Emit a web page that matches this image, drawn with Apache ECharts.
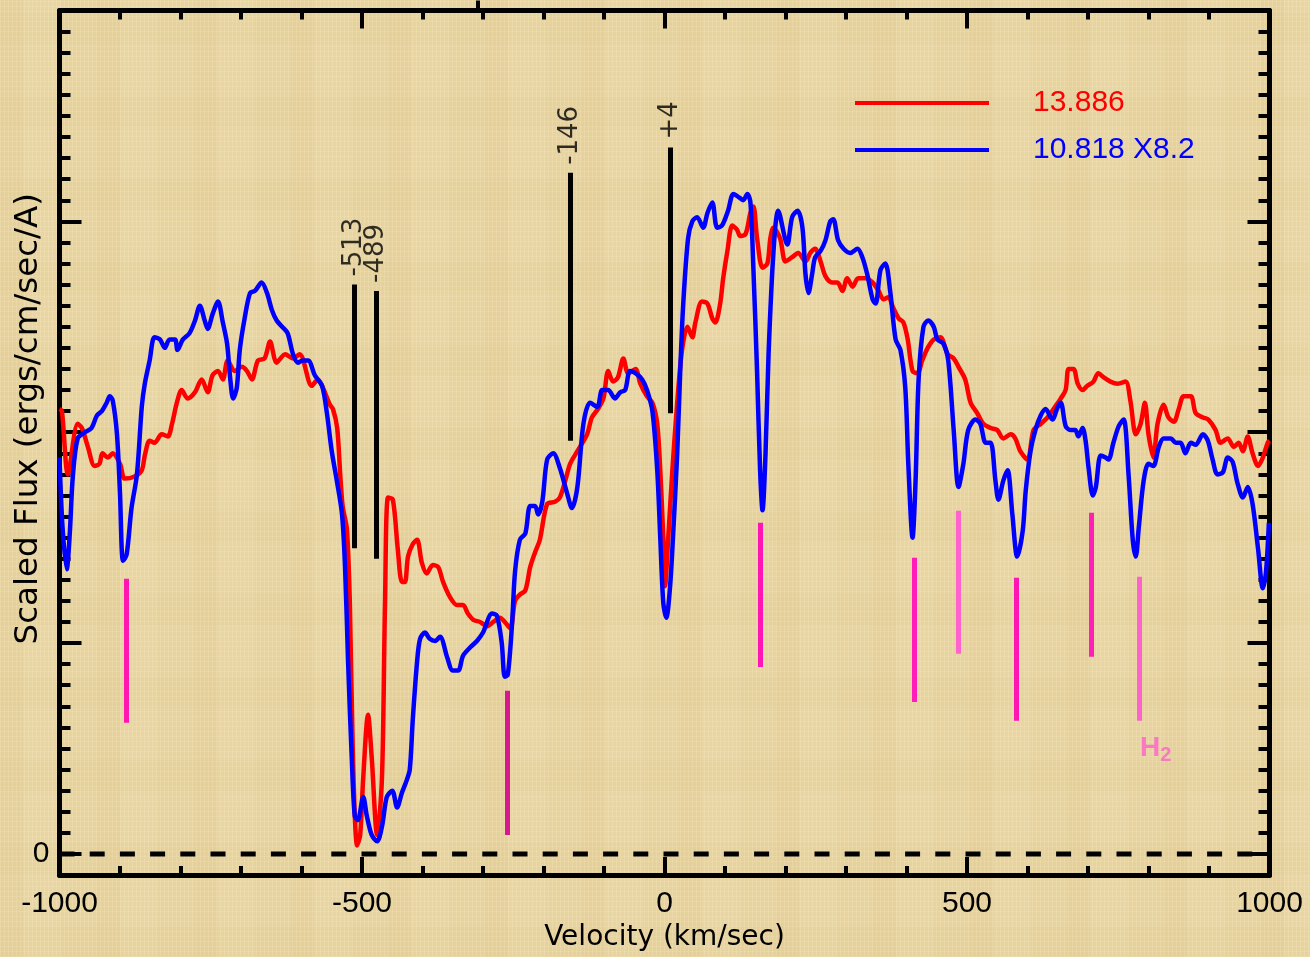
<!DOCTYPE html>
<html><head><meta charset="utf-8">
<script src="https://cdn.jsdelivr.net/npm/echarts@6/dist/echarts.min.js"></script>
<style>
html,body{margin:0;padding:0;width:1310px;height:957px;overflow:hidden;}
body{
  background-color:#e7d3a0;
  background-image:
    repeating-linear-gradient(90deg, rgba(255,248,220,0.16) 0px, rgba(255,248,220,0.16) 1px, rgba(0,0,0,0) 1px, rgba(0,0,0,0) 4px),
    repeating-linear-gradient(0deg, rgba(255,248,220,0.12) 0px, rgba(255,248,220,0.12) 1px, rgba(0,0,0,0) 1px, rgba(0,0,0,0) 5px),
    repeating-linear-gradient(90deg, rgba(190,150,70,0.04) 0px, rgba(190,150,70,0.04) 23px, rgba(255,250,225,0.05) 23px, rgba(255,250,225,0.05) 61px, rgba(0,0,0,0) 61px, rgba(0,0,0,0) 97px),
    repeating-linear-gradient(0deg, rgba(200,160,80,0.04) 0px, rgba(200,160,80,0.04) 31px, rgba(0,0,0,0) 31px, rgba(0,0,0,0) 83px);
}
#chart{width:1310px;height:957px;}
</style></head><body><div id="chart"></div><script>
// ---------- data ----------
const xRange = [-1000, 1000];
const yRange = [-0.1, 4];
const xMajorStep = 500;
const yMajorTicks = [0, 1, 2, 3, 4];
const yLabelValues = [0];
const zeroLevel = 0;

const redName = '13.886';
const redV = [-1000,-996,-986,-970,-963,-953,-942,-934,-929,-920,
-912,-900,-892,-876,-864,-859,-851,-843,-831,-821,
-814,-806,-798,-788,-776,-765,-755,-747,-738,-730,
-722,-710,-699,-690,-682,-672,-661,-652,-641,-627,
-614,-603,-583,-573,-566,-553,-548,-541,-536,-532,
-525,-520,-515,-508,-503,-498,-490,-484,-475,-467,
-462,-457,-449,-441,-434,-429,-424,-416,-409,-401,
-393,-383,-374,-366,-355,-343,-333,-325,-316,-305,
-293,-283,-272,-264,-255,-247,-239,-230,-222,-214,
-206,-194,-181,-173,-164,-156,-144,-128,-120,-110,
-101,-93,-85,-77,-68,-60,-48,-40,-29,-20,
-12,-7,-2,1,6,13,21,29,38,46,
51,62,71,79,84,92,97,104,112,120,
125,134,142,147,153,162,170,175,180,191,
200,211,221,233,241,249,258,266,277,286,
294,302,311,320,332,344,354,362,370,378,
387,395,402,410,418,426,435,445,456,468,
478,486,497,506,517,527,539,550,560,572,
580,588,600,610,622,633,643,655,663,668,
676,683,691,699,709,717,726,737,749,762,
770,779,787,794,800,808,815,825,833,842,
850,858,870,878,890,899,911,919,931,941,
949,956,964,972,981,989,997,1000];
const redF = [2.11,2.10,1.80,2.04,2.02,1.93,1.84,1.85,1.90,1.88,
1.90,1.85,1.78,1.79,1.82,1.89,1.96,1.95,1.99,1.98,
2.04,2.14,2.20,2.16,2.19,2.25,2.19,2.27,2.29,2.25,
2.34,2.29,2.31,2.29,2.25,2.34,2.35,2.43,2.33,2.37,
2.35,2.37,2.22,2.25,2.22,2.13,2.11,2.02,1.80,1.65,
1.54,1.18,0.46,0.04,0.09,0.36,0.66,0.46,0.09,0.36,
1.18,1.69,1.68,1.45,1.29,1.29,1.41,1.47,1.49,1.38,
1.33,1.37,1.36,1.29,1.22,1.18,1.18,1.14,1.11,1.10,
1.08,1.10,1.12,1.10,1.07,1.20,1.23,1.25,1.36,1.43,
1.49,1.66,1.67,1.69,1.77,1.85,1.91,1.99,2.07,2.11,
2.16,2.29,2.24,2.26,2.35,2.28,2.30,2.23,2.17,2.14,
2.04,1.82,1.50,1.27,1.49,1.82,2.14,2.39,2.50,2.45,
2.52,2.62,2.61,2.54,2.52,2.61,2.73,2.86,2.98,2.96,
2.93,2.94,3.04,3.07,2.92,2.78,2.80,2.92,2.97,2.92,
2.81,2.83,2.85,2.81,2.85,2.87,2.81,2.74,2.71,2.71,
2.67,2.73,2.69,2.73,2.73,2.71,2.67,2.63,2.64,2.59,
2.54,2.52,2.44,2.29,2.28,2.34,2.40,2.44,2.45,2.37,
2.35,2.31,2.25,2.14,2.09,2.04,2.02,2.01,1.97,1.99,
1.97,1.91,1.87,2.01,2.04,2.07,2.11,2.16,2.20,2.30,
2.30,2.23,2.20,2.22,2.24,2.28,2.26,2.24,2.23,2.24,
2.15,1.99,2.04,2.14,1.99,1.88,2.04,2.13,2.07,2.05,
2.11,2.17,2.17,2.09,2.07,2.06,2.01,1.95,1.97,1.93,
1.95,1.91,1.98,1.90,1.84,1.88,1.95,1.96];

const blueName = '10.818 X8.2';
const blueV = [-1000,-995,-988,-983,-978,-970,-958,-947,-938,-930,
-922,-917,-912,-905,-900,-895,-889,-881,-872,-864,
-859,-851,-843,-834,-826,-818,-809,-805,-796,-785,
-776,-768,-760,-755,-747,-738,-730,-723,-718,-713,
-707,-702,-694,-685,-677,-666,-657,-649,-641,-632,
-623,-614,-606,-598,-589,-578,-566,-558,-550,-541,
-533,-528,-523,-517,-512,-507,-498,-492,-484,-475,
-467,-459,-450,-442,-434,-426,-421,-416,-409,-404,
-396,-388,-379,-371,-359,-350,-341,-333,-321,-310,
-300,-285,-277,-269,-264,-259,-252,-247,-239,-230,
-222,-214,-209,-202,-194,-184,-173,-161,-153,-144,
-134,-123,-111,-103,-93,-82,-73,-65,-57,-48,
-37,-29,-20,-12,-7,-2,3,9,14,21,
26,31,39,46,54,64,71,79,87,95,
105,114,125,130,137,142,147,153,158,162,
167,172,180,188,203,211,220,228,233,238,
244,249,258,266,274,279,287,296,307,319,
327,335,344,349,357,365,373,382,390,398,
403,410,415,420,428,436,445,451,461,469,
478,486,494,502,514,522,531,539,547,552,
560,567,575,583,592,597,605,613,622,630,
641,650,655,663,671,679,684,691,696,701,
708,713,721,729,734,742,751,759,767,774,
779,784,792,800,808,817,825,837,845,853,
861,870,878,890,898,906,914,923,931,939,
947,956,964,972,981,989,994,999];
const blueF = [1.88,1.55,1.35,1.52,1.79,1.97,2.00,2.02,2.08,2.10,
2.14,2.17,2.15,1.99,1.71,1.39,1.42,1.64,1.80,2.12,
2.23,2.34,2.45,2.44,2.40,2.44,2.44,2.39,2.44,2.47,
2.53,2.60,2.53,2.49,2.56,2.62,2.52,2.42,2.26,2.16,
2.21,2.39,2.54,2.66,2.67,2.71,2.66,2.58,2.53,2.50,
2.47,2.37,2.33,2.34,2.34,2.27,2.22,2.09,1.91,1.76,
1.61,1.36,0.91,0.46,0.18,0.16,0.27,0.18,0.09,0.06,
0.13,0.27,0.30,0.22,0.29,0.35,0.40,0.64,0.91,1.02,
1.05,1.02,1.01,1.03,0.93,0.87,0.87,0.94,0.98,1.01,
1.05,1.14,1.13,1.00,0.84,0.85,1.09,1.34,1.49,1.52,
1.65,1.65,1.61,1.67,1.87,1.90,1.83,1.71,1.64,1.74,
2.04,2.14,2.12,2.20,2.20,2.16,2.19,2.20,2.29,2.28,
2.25,2.20,2.10,1.82,1.50,1.19,1.12,1.26,1.50,1.90,
2.29,2.61,2.92,3.00,3.02,2.97,3.04,3.09,2.97,2.98,
3.05,3.13,3.11,3.10,3.13,3.09,2.77,2.29,1.82,1.63,
1.90,2.37,2.85,3.05,2.89,3.02,3.05,2.97,2.75,2.66,
2.75,2.83,2.86,2.91,3.00,3.01,2.91,2.87,2.85,2.87,
2.83,2.75,2.63,2.61,2.77,2.80,2.67,2.44,2.39,2.21,
1.85,1.50,1.77,2.25,2.50,2.53,2.50,2.44,2.42,2.34,
2.01,1.74,1.85,2.01,2.06,2.04,1.95,1.95,1.77,1.68,
1.77,1.82,1.61,1.41,1.53,1.72,1.91,2.01,2.08,2.11,
2.06,2.12,2.14,2.03,2.01,2.01,1.98,2.02,1.96,1.83,
1.70,1.74,1.89,1.88,1.87,1.95,2.03,2.06,1.80,1.49,
1.41,1.55,1.77,1.85,1.84,1.93,1.97,1.97,1.95,1.95,
1.90,1.95,1.94,1.99,1.96,1.87,1.80,1.81,1.88,1.86,
1.76,1.69,1.74,1.66,1.45,1.26,1.33,1.57];

// velocity component markers (black)
const annoLabel  = ['-513', '-489', '-146', '+4'];
const annoX      = [-513, -477, -155, 9];
const annoTop    = [2.70, 2.67, 3.23, 3.35];
const annoBottom = [1.45, 1.40, 1.96, 2.09];

// H2 line markers (magenta)
const h2X      = [-889, -260, 158, 413, 486, 582, 706, 785];
const h2Top    = [1.305, 0.774, 1.571, 1.405, 1.628, 1.310, 1.618, 1.315];
const h2Bottom = [0.622, 0.090, 0.887, 0.721, 0.949, 0.631, 0.935, 0.631];
const h2Text = 'H2';
const h2LabelAt = [786, 0.50];

// small stray tick above the frame (velocity)
const strayTick = [-308];

// ---------- styles ----------
const H2_COLORS = ['#ff17b2', '#d8188f', '#ff14b4', '#ff1cb8', '#ff62cc', '#ff14b4', '#ff1fb6', '#ff62cc'];
const TICK_FONT = 'Liberation Sans, Arial, sans-serif';
const NAME_FONT = 'DejaVu Sans, sans-serif';

const zip = (a, b) => a.map((v, i) => [v, b[i]]);

const chart = echarts.init(document.getElementById('chart'), null, {renderer: 'canvas'});

function yAx(position, major, withName) {
  const ax = {
    type: 'value', position: position, min: yRange[0], max: yRange[1], interval: 0.1,
    axisLine: {show: !major, onZero: false, lineStyle: {color: '#000', width: 5}},
    axisTick: {show: true, inside: true, length: major ? 22 : 11, lineStyle: {color: '#000', width: 4}},
    axisLabel: {show: false},
    splitLine: {show: false}
  };
  if (major) ax.axisTick.customValues = yMajorTicks;
  if (withName) {
    ax.axisLabel = {show: true, customValues: yLabelValues, formatter: v => String(Math.round(v)),
      fontSize: 30, color: '#000', fontFamily: TICK_FONT, margin: 10};
    ax.name = 'Scaled Flux (ergs/cm/sec/A)';
    ax.nameLocation = 'middle';
    ax.nameGap = 14;
    ax.nameRotate = 90;
    ax.nameMoveOverlap = false;
    ax.nameTextStyle = {fontSize: 32.5, color: '#000', fontFamily: NAME_FONT, padding: [0, 0, 0, 48]};
  }
  return ax;
}
function xAx(position, withLabels) {
  const ax = {
    type: 'value', position: position, min: xRange[0], max: xRange[1], interval: xMajorStep,
    axisLine: {show: true, onZero: false, lineStyle: {color: '#000', width: 5}},
    axisTick: {show: true, inside: true, length: 18, lineStyle: {color: '#000', width: 4}},
    minorTick: {show: true, splitNumber: 5, length: 9, lineStyle: {color: '#000', width: 4}},
    axisLabel: {show: withLabels, fontSize: 30, color: '#000', fontFamily: TICK_FONT, margin: 14,
      formatter: v => String(v)},
    splitLine: {show: false}
  };
  if (withLabels) {
    ax.name = 'Velocity (km/sec)';
    ax.nameLocation = 'middle';
    ax.nameGap = 48;
    ax.nameTextStyle = {fontSize: 28, color: '#000', fontFamily: NAME_FONT};
  }
  return ax;
}
const strayAxis = {
  type: 'value', position: 'top', offset: 0, min: xRange[0], max: xRange[1],
  axisLine: {show: false, onZero: false},
  axisTick: {show: true, inside: false, length: 10, customValues: strayTick, lineStyle: {color: '#000', width: 4}},
  axisLabel: {show: false}, splitLine: {show: false}
};

const option = {
  animation: false,
  backgroundColor: 'transparent',
  grid: {left: 59.5, right: 40.5, top: 10.5, bottom: 82, containLabel: false, outerBoundsMode: 'none'},
  legend: {
    orient: 'vertical', left: 850, top: 80, itemWidth: 134, itemHeight: 4, itemGap: 11,
    icon: 'rect', selectedMode: false,
    textStyle: {fontSize: 30, fontFamily: TICK_FONT, lineHeight: 36, padding: [0, 0, 0, 39]},
    data: [{name: redName, textStyle: {color: '#ff0000'}}, {name: blueName, textStyle: {color: '#0000ff'}}]
  },
  xAxis: [xAx('bottom', true), xAx('top', false), strayAxis],
  yAxis: [yAx('left', false, true), yAx('left', true, false), yAx('right', false, false), yAx('right', true, false)],
  series: [
    {
      name: 'zero', type: 'line', silent: true, symbol: 'none',
      data: [[xRange[0], zeroLevel], [xRange[1], zeroLevel]],
      lineStyle: {color: '#000', width: 5, type: [15, 15.2]}, z: 1
    },
    {
      name: 'annotations', type: 'scatter', silent: true, symbolSize: 0, clip: false,
      data: annoX.map((x, i) => [x, annoTop[i], annoLabel[i]]),
      label: {show: true, position: 'top', distance: 8, rotate: 90, align: 'left', verticalAlign: 'middle',
        formatter: p => p.data[2], fontSize: 26, color: '#000', fontFamily: NAME_FONT},
      markLine: {
        silent: true, symbol: 'none', animation: false, label: {show: false},
        lineStyle: {color: '#000', width: 5, type: 'solid'},
        data: annoX.map((x, i) => [{coord: [x, annoBottom[i]]}, {coord: [x, annoTop[i]]}])
      }, z: 3
    },
    {
      name: 'h2', type: 'scatter', silent: true, symbolSize: 0, clip: false,
      data: [[h2LabelAt[0], h2LabelAt[1], h2Text]],
      label: {show: true, position: 'right', distance: 0,
        formatter: () => '{h|' + h2Text.charAt(0) + '}{s|' + h2Text.charAt(1) + '}',
        rich: {
          h: {fontSize: 28, fontWeight: 'bold', color: '#ff62cc', fontFamily: TICK_FONT},
          s: {fontSize: 20, fontWeight: 'bold', color: '#ff62cc', fontFamily: TICK_FONT, padding: [13, 0, 0, 0]}
        }},
      markLine: {
        silent: true, symbol: 'none', animation: false, label: {show: false},
        lineStyle: {width: 5, type: 'solid'},
        data: h2X.map((x, i) => [{coord: [x, h2Bottom[i]], lineStyle: {color: H2_COLORS[i], width: 5, type: 'solid'}}, {coord: [x, h2Top[i]]}])
      }, z: 3
    },
    {
      name: redName, type: 'line', symbol: 'none', smooth: 0.3, data: zip(redV, redF),
      lineStyle: {color: '#ff0000', width: 4.5}, itemStyle: {color: '#ff0000'}, z: 4
    },
    {
      name: blueName, type: 'line', symbol: 'none', smooth: 0.3, data: zip(blueV, blueF),
      lineStyle: {color: '#0000ff', width: 4.5}, itemStyle: {color: '#0000ff'}, z: 5
    }
  ]
};
chart.setOption(option);
</script></body></html>
